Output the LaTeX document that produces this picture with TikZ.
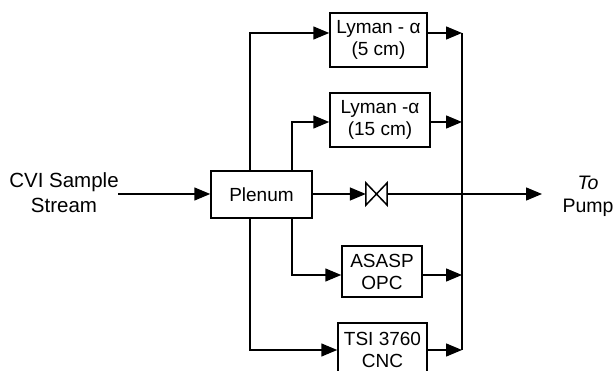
\documentclass[tikz,border=0pt]{standalone}
\usepackage{fontspec}
\setmainfont{Liberation Sans}
\usetikzlibrary{arrows.meta}
\begin{document}
\begin{tikzpicture}[x=1pt,y=-1pt,
  box/.style={draw,line width=1.5pt,inner sep=0pt,align=center,font=\fontsize{19}{22}\selectfont},
  arr/.style={line width=1.5pt,-{Triangle[length=16pt,width=13pt]}},
  ln/.style={line width=1.5pt},
  lbl/.style={align=center,inner sep=0pt}]
\useasboundingbox (0,0) rectangle (614,371);
\clip (0,0) rectangle (614,371);
% nodes
\node[box,minimum width=101pt,minimum height=47pt] (plenum) at (261.5,194.5) {Plenum};
\node[box,minimum width=97pt,minimum height=54pt] (ly5) at (378.5,40) {Lyman - α\\(5 cm)};
\node[box,minimum width=100pt,minimum height=54pt] (ly15) at (380,120) {Lyman -α\\(15 cm)};
\node[box,minimum width=80pt,minimum height=51pt] (asasp) at (382,271.5) {ASASP\\OPC};
\node[box,minimum width=89pt,minimum height=54pt] (tsi) at (382.5,350) {TSI 3760\\CNC};
\node[minimum width=21pt,minimum height=22pt,inner sep=0pt] (valve) at (376.5,194) {};
\draw[ln,line join=miter] (valve.north west) -- (valve.south east) -- (valve.north east) -- (valve.south west) -- cycle;
\node[lbl,font=\fontsize{20.5}{25}\selectfont] (src) at (64,193) {CVI Sample\\Stream};
\node[lbl,font=\fontsize{19.5}{23}\selectfont] (pump) at (588,196) {\textit{To}\\Pump};
% helper coordinates
\coordinate (b1) at (250,0);
\coordinate (b2) at (292,0);
\coordinate (bus) at (462,0);
\coordinate (in) at (118,194);
\coordinate (out) at (542,194);
% inlet
\draw[arr] (in) -- (plenum.west |- in);
% branches
\draw[arr] (plenum.north -| b1) |- ([yshift=7pt]ly5.west);
\draw[arr] (plenum.north -| b2) |- ([yshift=-2pt]ly15.west);
\draw[arr] (plenum.south -| b2) |- ([yshift=-3.5pt]asasp.west);
\draw[arr] (plenum.south -| b1) |- (tsi.west);
\draw[arr] (plenum.east |- in) -- (valve.west);
% outputs to manifold
\coordinate (t1) at ([yshift=7pt]ly5.east -| bus);
\coordinate (t4) at (tsi.east -| bus);
\draw[arr] ([yshift=7pt]ly5.east) -- (t1);
\draw[arr] ([yshift=-2pt]ly15.east) -- ([yshift=-2pt]ly15.east -| bus);
\draw[arr] ([yshift=-3.5pt]asasp.east) -- ([yshift=-3.5pt]asasp.east -| bus);
\draw[arr] (tsi.east) -- (t4);
\draw[ln] (t1) -- (t4);
% outlet
\draw[arr] (valve.east) -- (out);
\end{tikzpicture}
\end{document}
